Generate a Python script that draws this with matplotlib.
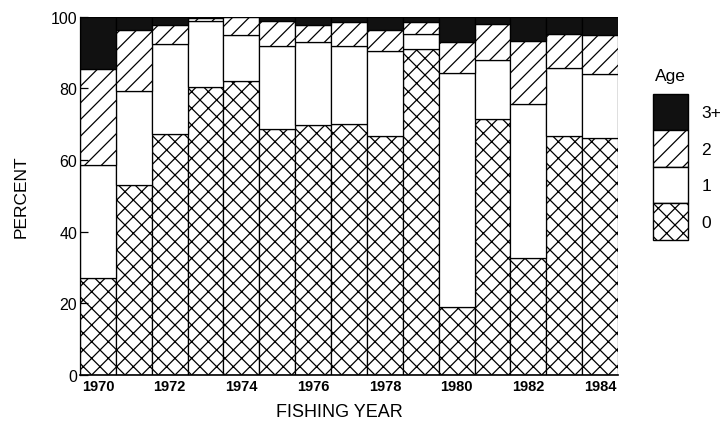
import numpy as np
import matplotlib
matplotlib.use("Agg")
import matplotlib.pyplot as plt
from matplotlib.patches import Patch

plt.rcParams['font.family'] = ['Liberation Sans', 'DejaVu Sans']
plt.rcParams['hatch.linewidth'] = 0.9

# Fishing years and percent composition by age
years = list(range(1970, 1985))
age0 = [27.0, 53.1, 67.3, 80.4, 81.9, 68.7, 69.7, 69.9, 66.8, 90.9, 19.0, 71.5, 32.5, 66.7, 66.1]
age1 = [31.6, 26.0, 25.1, 18.3, 13.0, 23.2, 23.2, 22.0, 23.5, 4.2, 65.2, 16.4, 43.1, 18.9, 17.9]
age2 = [26.8, 17.2, 5.1, 0.9, 5.1, 6.8, 4.7, 6.5, 6.0, 3.4, 8.7, 10.1, 17.7, 9.6, 10.9]
age3 = [14.6, 3.7, 2.5, 0.4, 0.0, 1.3, 2.4, 1.6, 3.7, 1.5, 7.1, 2.0, 6.7, 4.8, 5.1]
tick_years = [1970, 1972, 1974, 1976, 1978, 1980, 1982, 1984]

fig = plt.figure(figsize=(7.23, 4.27), dpi=100)
ax = fig.add_axes([0.1107, 0.1195, 0.744, 0.8395])

x = np.array(years)
b0 = np.array(age0)
b1 = b0 + np.array(age1)
b2 = b1 + np.array(age2)

kw = dict(width=1.0, edgecolor='black', linewidth=0.9)
ax.bar(x, age0, facecolor='white', hatch='xx', **kw)
ax.bar(x, age1, bottom=b0, facecolor='white', **kw)
ax.bar(x, age2, bottom=b1, facecolor='white', hatch='//', **kw)
ax.bar(x, age3, bottom=b2, facecolor='#111111', **kw)

ax.set_xlim(1969.5, 1984.5)
ax.set_ylim(0, 100)
ax.set_yticks([0, 20, 40, 60, 80, 100])
ax.set_xticks(tick_years)
ax.set_xticklabels([str(y) for y in tick_years], fontweight='bold', fontsize=10.5)
ax.tick_params(axis='y', direction='in', length=6, width=0.9, labelsize=11.5, pad=2)
ax.tick_params(axis='x', length=0, pad=3)
ax.spines['top'].set_visible(False)
ax.spines['right'].set_visible(False)
ax.spines['left'].set_linewidth(0.9)
ax.spines['bottom'].set_linewidth(1.2)

ax.set_ylabel('PERCENT', fontsize=12.5, labelpad=16)
fig.text(0.47, 0.035, 'FISHING YEAR', fontsize=13, ha='center', va='center')

# legend: title as separate text so the gap above the boxes matches
fig.text(0.906, 0.82, 'Age', fontsize=12.5, ha='left', va='center')
handles = [
    Patch(facecolor='#111111', edgecolor='black', label='3+'),
    Patch(facecolor='white', edgecolor='black', hatch='//', label='2'),
    Patch(facecolor='white', edgecolor='black', label='1'),
    Patch(facecolor='white', edgecolor='black', hatch='xx', label='0'),
]
leg = fig.legend(handles=handles, loc='upper left',
                 bbox_to_anchor=(0.903, 0.7775), frameon=False,
                 fontsize=12.5, handlelength=2.0,
                 handleheight=2.85, labelspacing=0, handletextpad=0.8,
                 borderpad=0, borderaxespad=0)

fig.savefig('out.png', dpi=100)
